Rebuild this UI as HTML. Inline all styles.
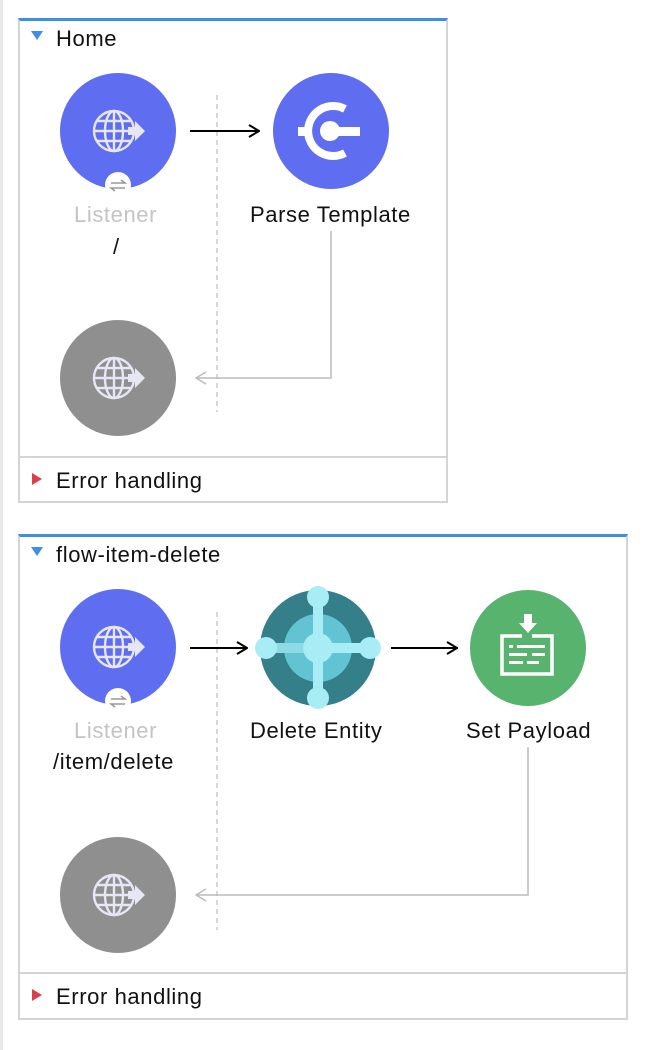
<!DOCTYPE html>
<html><head><style>
body{margin:0;width:656px;height:1050px;background:#fff;font-family:"Liberation Sans",sans-serif;position:relative;overflow:hidden}
.edge{position:absolute;left:0;top:0;width:3px;height:1050px;background:#e8e8e8}
.box{position:absolute;border:2px solid #d4d4d4;border-top:3px solid #3d8ee6;box-sizing:border-box}
.t{position:absolute;font-size:22px;letter-spacing:0.6px;color:#111;white-space:nowrap}
</style></head><body>
<div class="edge"></div>
<div class="box" style="left:18px;top:18px;width:430px;height:485px"></div>
<div class="box" style="left:18px;top:534px;width:610px;height:486px"></div>
<svg width="656" height="1050" style="position:absolute;left:0;top:0">
<defs>
<marker id="a" markerWidth="12" markerHeight="14" refX="11" refY="7" orient="auto" markerUnits="userSpaceOnUse"><path d="M1,1 L11,7 L1,13" fill="none" stroke="#000" stroke-width="2"/></marker>
<marker id="g" markerWidth="12" markerHeight="14" refX="11" refY="7" orient="auto" markerUnits="userSpaceOnUse"><path d="M1,1 L11,7 L1,13" fill="none" stroke="#bbb" stroke-width="1.5"/></marker>
<g id="globe" fill="none" stroke="#e6e6f5" stroke-width="2.4">
<circle cx="-4" cy="0" r="20"/><ellipse cx="-4" cy="0" rx="9" ry="20"/><line x1="-24" y1="0" x2="16" y2="0"/><line x1="-4" y1="-20" x2="-4" y2="20"/><line x1="-21" y1="-10" x2="13" y2="-10"/><line x1="-21" y1="10" x2="13" y2="10"/>
<path d="M10,-4 h7 v-6 l10,10 -10,10 v-6 h-7z" fill="#e6e6f5" stroke="none"/>
</g>
</defs>
<line x1="20" y1="457" x2="446" y2="457" stroke="#d4d4d4" stroke-width="2"/>
<line x1="20" y1="973" x2="626" y2="973" stroke="#d4d4d4" stroke-width="2"/>
<path d="M31,31 h12 l-6,9z" fill="#3d8ee6"/>
<path d="M31,547 h12 l-6,9z" fill="#3d8ee6"/>
<path d="M32,473 l10,6 -10,6z" fill="#d9404a"/>
<path d="M32,989 l10,6 -10,6z" fill="#d9404a"/>
<line x1="217" y1="95" x2="217" y2="412" stroke="#ccc" stroke-width="1.5" stroke-dasharray="5,4"/>
<line x1="217" y1="612" x2="217" y2="930" stroke="#ccc" stroke-width="1.5" stroke-dasharray="5,4"/>
<circle cx="118" cy="131" r="58" fill="#5f6ef0"/>
<use href="#globe" x="118" y="131"/>
<circle cx="118" cy="185" r="13" fill="#fff"/>
<path d="M111,183 h14 l-4,-3 M125,188 h-14 l4,3" stroke="#999" stroke-width="1.5" fill="none"/>
<line x1="190" y1="131" x2="259" y2="131" stroke="#000" stroke-width="2" marker-end="url(#a)"/>
<circle cx="331" cy="131" r="58" fill="#5f6ef0"/>
<path d="M345,109 A25,25 0 1 0 345,153" fill="none" stroke="#fff" stroke-width="8"/>
<circle cx="330" cy="131" r="10" fill="#fff"/><rect x="330" y="127" width="30" height="9" fill="#fff"/><rect x="298" y="127" width="9" height="9" fill="#fff"/>
<polyline points="331,231 331,378 196,378" fill="none" stroke="#bbb" stroke-width="1.5" marker-end="url(#g)"/>
<circle cx="118" cy="378" r="58" fill="#8f8f8f"/>
<use href="#globe" x="118" y="378"/>
<circle cx="118" cy="647" r="58" fill="#5f6ef0"/>
<use href="#globe" x="118" y="647"/>
<circle cx="118" cy="701" r="13" fill="#fff"/>
<path d="M111,699 h14 l-4,-3 M125,704 h-14 l4,3" stroke="#999" stroke-width="1.5" fill="none"/>
<line x1="190" y1="648" x2="247" y2="648" stroke="#000" stroke-width="2" marker-end="url(#a)"/>
<circle cx="318" cy="648" r="58" fill="#357f8b"/>
<circle cx="318" cy="648" r="34" fill="#62c4d2"/>
<rect x="313" y="600" width="10" height="96" fill="#a8ecf5"/>
<rect x="318" y="643" width="48" height="10" fill="#a8ecf5"/>
<rect x="270" y="643" width="48" height="10" fill="#8fd9e4"/>
<circle cx="318" cy="597" r="11" fill="#a8ecf5"/><circle cx="318" cy="698" r="11" fill="#a8ecf5"/>
<circle cx="266" cy="648" r="11" fill="#a8ecf5"/><circle cx="370" cy="648" r="11" fill="#a8ecf5"/>
<circle cx="318" cy="648" r="15" fill="#a8ecf5"/>
<line x1="391" y1="648" x2="457" y2="648" stroke="#000" stroke-width="2" marker-end="url(#a)"/>
<circle cx="528" cy="648" r="58" fill="#57b36d"/>
<path d="M522,636 h-20 v38 h50 v-38 h-20" fill="none" stroke="#fff" stroke-width="3.5"/>
<path d="M524,614 h8 v9 h5 l-9,10 -9,-10 h5z" fill="#fff"/>
<rect x="509" y="645" width="4" height="3" fill="#fff"/><rect x="517" y="645" width="28" height="3" fill="#fff"/>
<rect x="509" y="653" width="18" height="3" fill="#fff"/><rect x="532" y="653" width="13" height="3" fill="#fff"/>
<rect x="509" y="661" width="14" height="3" fill="#fff"/><rect x="527" y="661" width="12" height="3" fill="#fff"/>
<polyline points="528,747 528,895 196,895" fill="none" stroke="#bbb" stroke-width="1.5" marker-end="url(#g)"/>
<circle cx="118" cy="895" r="58" fill="#8f8f8f"/>
<use href="#globe" x="118" y="895"/>
</svg>
<div class="t" style="left:56px;top:26px">Home</div>
<div class="t" style="left:74px;top:202px;color:#c4c4c4">Listener</div>
<div class="t" style="left:113px;top:234px">/</div>
<div class="t" style="left:250px;top:202px">Parse Template</div>
<div class="t" style="left:56px;top:468px">Error handling</div>
<div class="t" style="left:56px;top:542px">flow-item-delete</div>
<div class="t" style="left:74px;top:718px;color:#c4c4c4">Listener</div>
<div class="t" style="left:53px;top:749px">/item/delete</div>
<div class="t" style="left:250px;top:718px">Delete Entity</div>
<div class="t" style="left:466px;top:718px">Set Payload</div>
<div class="t" style="left:56px;top:984px">Error handling</div>
</body></html>
